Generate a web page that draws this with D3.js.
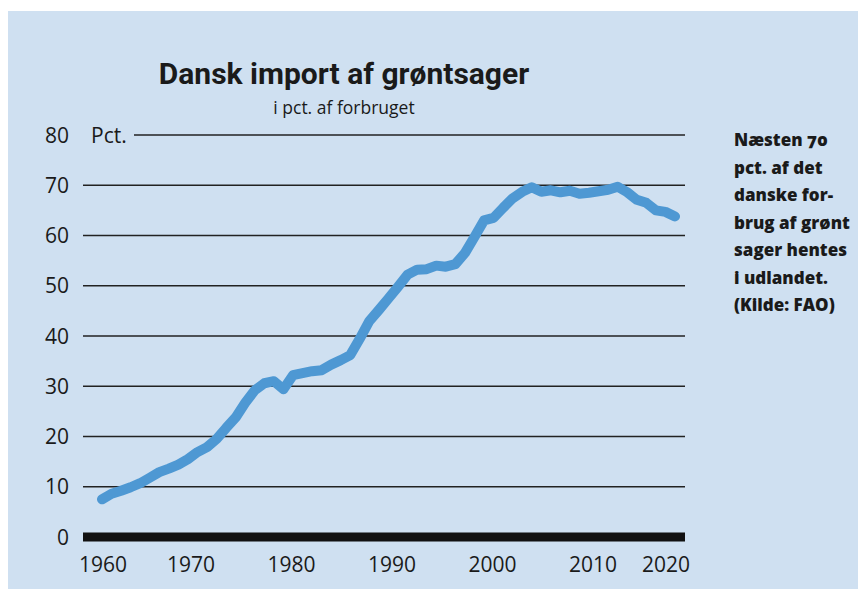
<!DOCTYPE html>
<html>
<head>
<meta charset="utf-8">
<script src="https://cdn.jsdelivr.net/npm/d3@7"></script>
<style>
  body { margin: 0; background: #ffffff; }
  svg text { font-family: "Open Sans", "Noto Sans", sans-serif; fill: #1a1a1a; }
</style>
</head>
<body>
<div id="chart"></div>
<script>
// Data (share of consumption imported, pct.)
const years = d3.range(1961, 2022);
const importShare = [
  7.5, 8.6, 9.2, 9.9, 10.7, 11.8, 12.9, 13.6, 14.4, 15.5,
  16.9, 17.9, 19.5, 21.7, 23.8, 26.7, 29.2, 30.6, 31.0, 29.4,
  32.2, 32.6, 33.0, 33.2, 34.3, 35.2, 36.2, 39.5, 43.0, 45.2,
  47.5, 49.8, 52.2, 53.2, 53.3, 54.0, 53.8, 54.3, 56.5, 59.7,
  63.0, 63.5, 65.5, 67.4, 68.7, 69.6, 68.7, 69.0, 68.6, 68.9,
  68.3, 68.5, 68.8, 69.1, 69.7, 68.6, 67.1, 66.5, 65.0, 64.7,
  63.8
];
const yTicks = [0, 10, 20, 30, 40, 50, 60, 70, 80];
const xTickLabels = [1960, 1970, 1980, 1990, 2000, 2010, 2020];
const noteLines = [
  "Næsten 70",
  "pct. af det",
  "danske for-",
  "brug af grønt",
  "sager hentes",
  "i udlandet.",
  "(Kilde: FAO)"
];

function init() {
    const width = 858;
    const height = 594;

    const svg = d3.select("#chart")
        .append("svg")
        .attr("width", width)
        .attr("height", height);

    // light blue panel
    svg.append("rect")
        .attr("x", 8)
        .attr("y", 11)
        .attr("width", width - 8)
        .attr("height", 578)
        .attr("fill", "#cfe0f1");

    const x = d3.scaleLinear().domain([1961, 2021]).range([102, 675]);
    const y = d3.scaleLinear().domain([0, 80]).range([537, 135]);
    // the original places its year labels a little unevenly
    const xLabel = d3.scaleLinear()
        .domain([1960, 1970, 2010, 2020])
        .range([103, 191, 593, 666]);

    // title
    svg.append("text")
        .attr("x", 344)
        .attr("y", 84)
        .attr("text-anchor", "middle")
        .style("font-family", "Roboto, sans-serif")
        .style("font-weight", 700)
        .style("font-size", "30px")
        .text("Dansk import af grøntsager");

    svg.append("text")
        .attr("x", 344)
        .attr("y", 114)
        .attr("text-anchor", "middle")
        .style("font-size", "17.5px")
        .text("i pct. af forbruget");

    // gridlines
    svg.append("g")
        .selectAll("line")
        .data(yTicks.filter(d => d > 0))
        .enter().append("line")
        .attr("x1", d => d === 80 ? 134 : 83)
        .attr("x2", 685)
        .attr("y1", d => y(d))
        .attr("y2", d => y(d))
        .attr("stroke", "#222")
        .attr("stroke-width", 1.6);

    // thick zero line
    svg.append("line")
        .attr("x1", 83)
        .attr("x2", 685)
        .attr("y1", y(0))
        .attr("y2", y(0))
        .attr("stroke", "#111")
        .attr("stroke-width", 9);

    // y labels
    svg.append("g")
        .selectAll("text")
        .data(yTicks)
        .enter().append("text")
        .attr("x", 69)
        .attr("y", d => y(d))
        .attr("dy", "0.36em")
        .attr("text-anchor", "end")
        .style("font-size", "21px")
        .text(d => d);

    svg.append("text")
        .attr("x", 91)
        .attr("y", y(80))
        .attr("dy", "0.36em")
        .style("font-size", "21px")
        .text("Pct.");

    // x labels
    svg.append("g")
        .selectAll("text")
        .data(xTickLabels)
        .enter().append("text")
        .attr("x", d => xLabel(d))
        .attr("y", 572)
        .attr("text-anchor", "middle")
        .style("font-size", "21px")
        .text(d => d);

    // the series
    const line = d3.line()
        .x((d, i) => x(years[i]))
        .y(d => y(d));

    svg.append("path")
        .datum(importShare)
        .attr("d", line)
        .attr("fill", "none")
        .attr("stroke", "#4e98d3")
        .attr("stroke-width", 10)
        .attr("stroke-linecap", "round")
        .attr("stroke-linejoin", "round");

    // side note
    svg.append("g")
        .selectAll("text")
        .data(noteLines)
        .enter().append("text")
        .attr("x", 734)
        .attr("y", (d, i) => 146 + i * 27.5)
        .style("font-weight", 800)
        .style("font-size", "17px")
        .style("font-variant-numeric", "oldstyle-nums")
        .text(d => d);
}
window.onload = init;
</script>
</body>
</html>
